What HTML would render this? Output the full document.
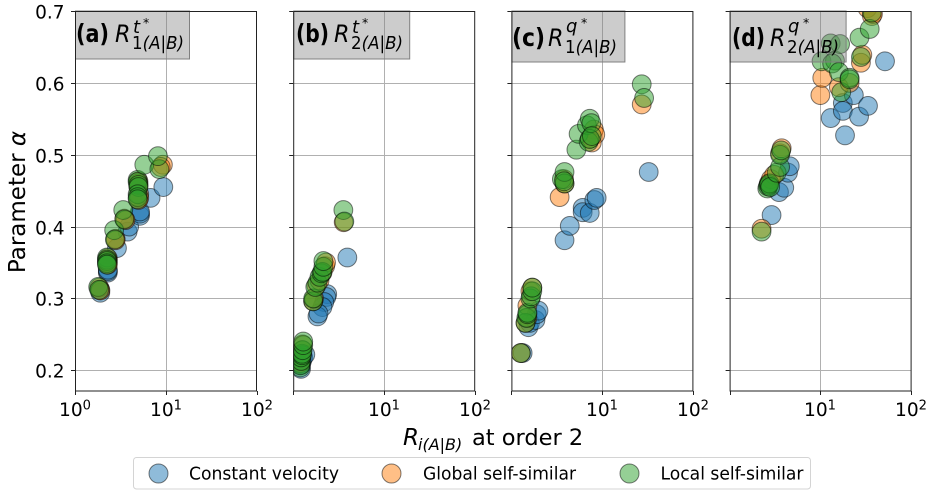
<!DOCTYPE html>
<html lang="en">
<head>
<meta charset="utf-8">
<title>Parameter alpha scatter panels</title>
<style>
html,body{margin:0;padding:0;background:#fff;}
body{width:935px;height:496px;overflow:hidden;}
svg{display:block;}
text{font-family:"DejaVu Sans","Liberation Sans",sans-serif;fill:#000;}
</style>
</head>
<body>
<svg id="chart" width="935" height="496" viewBox="0 0 935 496" xmlns="http://www.w3.org/2000/svg">
  <g id="panels"></g>

  <text transform="translate(25,202) rotate(-90)" text-anchor="middle" font-size="23">Parameter <tspan font-style="italic">α</tspan></text>

  <g>
    <text x="403" y="445" font-size="23" font-style="italic">R</text>
    <text x="418" y="450" font-size="16" font-style="italic">i(A|B)</text>
    <text x="472" y="445" font-size="22.5">at order 2</text>
  </g>

  <g>
    <rect x="133.5" y="457.5" width="677" height="31.5" rx="3" fill="#fff" stroke="#d4d4d4" stroke-width="1"/>
    <g>
      <circle cx="158.5" cy="473.5" r="9.5" fill="#1f77b4" fill-opacity="0.5" stroke="#000" stroke-opacity="0.5"/>
      <text x="189" y="479.5" font-size="18" textLength="150" lengthAdjust="spacingAndGlyphs">Constant velocity</text>
    </g>
    <g>
      <circle cx="391.5" cy="473.5" r="9.5" fill="#ff7f0e" fill-opacity="0.5" stroke="#000" stroke-opacity="0.5"/>
      <text x="423" y="479.5" font-size="18" textLength="153" lengthAdjust="spacingAndGlyphs">Global self-similar</text>
    </g>
    <g>
      <circle cx="629.5" cy="473.5" r="9.5" fill="#2ca02c" fill-opacity="0.5" stroke="#000" stroke-opacity="0.5"/>
      <text x="660.5" y="479.5" font-size="18" textLength="143" lengthAdjust="spacingAndGlyphs">Local self-similar</text>
    </g>
  </g>
</svg>
<script>
// Tick values
const yTickValues = [0.2, 0.3, 0.4, 0.5, 0.6, 0.7];
const yTickLabels = ["0.2", "0.3", "0.4", "0.5", "0.6", "0.7"];
const xTickValues = [1, 10, 100];
const xTickExponents = ["0", "1", "2"];

// Panel (a)
const aConstantX = [1.9, 1.9, 2.3, 2.3, 2.3, 2.9, 3.8, 3.95, 5.2, 5.2, 5.2, 6.8, 9.4];
const aConstantY = [0.308, 0.312, 0.336, 0.338, 0.34, 0.37, 0.393, 0.4, 0.415, 0.418, 0.421, 0.44, 0.455];
const aGlobalX = [1.85, 1.9, 2.3, 2.3, 2.3, 2.3, 2.8, 2.8, 3.5, 3.6, 5, 5, 5.1, 5.1, 5, 5, 9.3, 8.8];
const aGlobalY = [0.315, 0.311, 0.356, 0.353, 0.35, 0.347, 0.383, 0.381, 0.411, 0.409, 0.463, 0.456, 0.445, 0.44, 0.437, 0.46, 0.486, 0.483];
const aLocalX = [1.8, 1.85, 2.25, 2.25, 2.25, 2.25, 2.25, 2.7, 2.75, 3.4, 3.5, 4.9, 4.9, 5, 5, 4.9, 4.9, 4.9, 5.8, 8.5, 8.2];
const aLocalY = [0.316, 0.312, 0.357, 0.354, 0.352, 0.349, 0.347, 0.395, 0.382, 0.423, 0.41, 0.465, 0.462, 0.458, 0.455, 0.445, 0.441, 0.438, 0.486, 0.48, 0.498];

// Panel (b)
const bConstantX = [1.22, 1.22, 1.25, 1.29, 1.36, 2.37, 2.32, 2.2, 2.1, 1.85, 1.9, 3.95];
const bConstantY = [0.202, 0.208, 0.213, 0.218, 0.222, 0.306, 0.302, 0.295, 0.288, 0.275, 0.279, 0.357];
const bGlobalX = [1.2, 1.22, 1.25, 1.27, 1.66, 1.7, 1.8, 1.95, 2.1, 2.25, 2.3, 3.6];
const bGlobalY = [0.21, 0.218, 0.228, 0.236, 0.296, 0.3, 0.318, 0.325, 0.336, 0.345, 0.35, 0.406];
const bLocalX = [1.2, 1.2, 1.22, 1.22, 1.25, 1.25, 1.27, 1.29, 1.29, 1.66, 1.66, 1.75, 1.85, 1.95, 2.05, 2.1, 2.15, 2.15, 3.57, 3.66];
const bLocalY = [0.204, 0.207, 0.213, 0.218, 0.221, 0.223, 0.228, 0.235, 0.24, 0.296, 0.3, 0.316, 0.322, 0.33, 0.335, 0.337, 0.344, 0.352, 0.423, 0.407];

// Panel (c)
const cConstantX = [1.33, 1.54, 1.6, 1.84, 1.9, 1.99, 3.85, 4.4, 6.1, 6.1, 7.3, 8.2, 8.7, 32.6];
const cConstantY = [0.224, 0.26, 0.266, 0.27, 0.278, 0.283, 0.381, 0.401, 0.426, 0.42, 0.419, 0.437, 0.44, 0.476];
const cGlobalX = [1.27, 1.43, 1.5, 1.5, 1.62, 1.7, 3.4, 3.85, 3.8, 8.1, 8.4, 7.7, 7.3, 27.3];
const cGlobalY = [0.224, 0.266, 0.273, 0.29, 0.31, 0.315, 0.441, 0.46, 0.466, 0.535, 0.528, 0.517, 0.522, 0.57];
const cLocalX = [1.27, 1.43, 1.46, 1.5, 1.5, 1.62, 1.65, 1.7, 1.7, 3.6, 3.85, 3.85, 3.8, 5.2, 5.5, 6.8, 7.1, 7.3, 7.3, 7.6, 7.7, 27.3, 29];
const cLocalY = [0.224, 0.266, 0.273, 0.278, 0.28, 0.3, 0.303, 0.31, 0.315, 0.466, 0.46, 0.476, 0.463, 0.507, 0.529, 0.541, 0.518, 0.522, 0.55, 0.544, 0.526, 0.598, 0.579];

// Panel (d)
const dConstantX = [2.9, 3.5, 4, 4.4, 4.6, 13, 17.7, 17.7, 18.7, 23.4, 26.7, 33.5, 51.6];
const dConstantY = [0.416, 0.448, 0.454, 0.475, 0.484, 0.551, 0.572, 0.561, 0.527, 0.583, 0.553, 0.568, 0.63];
const dGlobalX = [2.25, 2.7, 2.85, 3.1, 3.6, 3.75, 10, 10.5, 16, 21, 28, 29, 33, 37, 38];
const dGlobalY = [0.397, 0.46, 0.466, 0.472, 0.502, 0.509, 0.583, 0.607, 0.594, 0.6, 0.628, 0.639, 0.704, 0.693, 0.696];
const dLocalX = [2.25, 2.6, 2.65, 2.7, 2.75, 2.8, 3.3, 3.6, 3.6, 3.7, 10.3, 13, 14.5, 13.5, 16.5, 16, 17, 21, 21, 28, 27, 35, 37];
const dLocalY = [0.393, 0.453, 0.456, 0.458, 0.46, 0.455, 0.475, 0.483, 0.5, 0.506, 0.63, 0.655, 0.631, 0.627, 0.654, 0.615, 0.587, 0.607, 0.605, 0.636, 0.663, 0.675, 0.698];

const svgNS = "http://www.w3.org/2000/svg";
const root = document.getElementById("panels");
const panelLetters = ["a", "b", "c", "d"];
const panelSymbols = ["t", "t", "q", "q"];
const panelOrders = ["1", "2", "1", "2"];
const constantXs = [aConstantX, bConstantX, cConstantX, dConstantX];
const constantYs = [aConstantY, bConstantY, cConstantY, dConstantY];
const globalXs = [aGlobalX, bGlobalX, cGlobalX, dGlobalX];
const globalYs = [aGlobalY, bGlobalY, cGlobalY, dGlobalY];
const localXs = [aLocalX, bLocalX, cLocalX, dLocalX];
const localYs = [aLocalY, bLocalY, cLocalY, dLocalY];

const axisTop = 11;
const axisBottom = 391;
const axisWidth = 181.5;
const decade = axisWidth / 2;
function panelLeft(i) { return 75 + i * 218.2; }
function scaleX(i, v) { return panelLeft(i) + Math.log10(v) * decade; }
function scaleY(v) { return 370.3 - (v - 0.2) * 718.6; }

function make(tag, attrs, parent) {
  const el = document.createElementNS(svgNS, tag);
  for (const k in attrs) { el.setAttribute(k, attrs[k]); }
  parent.appendChild(el);
  return el;
}

const defs = make("defs", {}, root);

for (let i = 0; i < 4; i++) {
  const left = panelLeft(i);
  const right = left + axisWidth;
  const panel = make("g", {}, root);
  
  

  const clip = make("clipPath", { id: "clip-" + i }, defs);
  make("rect", { x: left, y: axisTop, width: axisWidth, height: axisBottom - axisTop }, clip);

  // Grid lines
  yTickValues.forEach(function (t) {
    const y = Math.round(scaleY(t)) + 0.5;
    const g = make("line", { x1: left, x2: right, y1: y, y2: y, stroke: "#b0b0b0", "stroke-width": 1 }, panel);
    
    
  });
  const gridX = Math.round(scaleX(i, 10)) + 0.5;
  const gx = make("line", { x1: gridX, x2: gridX, y1: axisTop, y2: axisBottom, stroke: "#b0b0b0", "stroke-width": 1 }, panel);
  
  

  // Markers
  const groups = [
    ["constant-velocity", "#1f77b4", constantXs[i], constantYs[i]],
    ["global-self-similar", "#ff7f0e", globalXs[i], globalYs[i]],
    ["local-self-similar", "#2ca02c", localXs[i], localYs[i]]
  ];
  groups.forEach(function (s) {
    const series = make("g", { "clip-path": "url(#clip-" + i + ")" }, panel);
    
    
    s[2].forEach(function (xv, k) {
      const c = make("circle", {
        cx: scaleX(i, xv).toFixed(2),
        cy: scaleY(s[3][k]).toFixed(2),
        r: 9.4,
        fill: s[1],
        "fill-opacity": 0.5,
        stroke: "#000",
        "stroke-opacity": 0.5,
        "stroke-width": 1
      }, series);
      
      
    });
  });

  // Panel title box
  const tall = panelSymbols[i] === "q";
  const boxW = [114, 116, 113, 116][i];
  const box = make("rect", {
    x: left + 0.5, y: axisTop, width: boxW, height: tall ? 51 : 48,
    fill: "#808080", "fill-opacity": 0.4, stroke: "#808080", "stroke-width": 1
  }, panel);
  
  

  const baseY = tall ? 46 : 42;
  const letterX = [76, 296, 512, 732][i];
  const letter = make("text", { x: letterX, y: baseY, "font-size": 25, "font-weight": "bold", textLength: 33, lengthAdjust: "spacingAndGlyphs" }, panel);
  letter.textContent = "(" + panelLetters[i] + ")";
  
  

  const rx = [115, 334, 548, 770][i];
  const r = make("text", { x: rx, y: baseY, "font-size": 24, "font-style": "italic", textLength: 15.5, lengthAdjust: "spacingAndGlyphs" }, panel);
  r.textContent = "R";
  
  

  const sup = make("text", { x: rx + 18, y: tall ? 32 : 33, "font-size": 18, "font-style": "italic" }, panel);
  sup.textContent = panelSymbols[i];
  
  

  const star = make("text", { x: rx + (tall ? 33 : 28), y: 27, "font-size": 12.5 }, panel);
  star.textContent = "*";
  
  

  const sub = make("text", { x: rx + 17, y: baseY + 7, "font-size": 18, textLength: 52, lengthAdjust: "spacingAndGlyphs" }, panel);
  const subN = make("tspan", {}, sub);
  subN.textContent = panelOrders[i];
  const subRest = make("tspan", { "font-style": "italic" }, sub);
  subRest.textContent = "(A|B)";
  
  

  // Frame
  const frame = make("rect", { x: left + 0.5, y: axisTop + 0.5, width: axisWidth - 0.5, height: axisBottom - axisTop - 0.5, fill: "none", stroke: "#222", "stroke-width": 1 }, panel);
  
  

  // Y ticks
  yTickValues.forEach(function (t, k) {
    const y = Math.round(scaleY(t)) + 0.5;
    const tick = make("line", { x1: left - 4, x2: left, y1: y, y2: y, stroke: "#222", "stroke-width": 1 }, panel);
    
    
    if (i === 0) {
      const lab = make("text", { x: left - 10.5, y: y + 7, "font-size": 18.5, "text-anchor": "end" }, panel);
      lab.textContent = yTickLabels[k];
      
      
    }
  });

  // X ticks
  xTickValues.forEach(function (t, k) {
    const x = Math.round(scaleX(i, t)) + 0.5;
    const tick = make("line", { x1: x, x2: x, y1: axisBottom, y2: axisBottom + 4, stroke: "#222", "stroke-width": 1 }, panel);
    
    
    if (i === 0 || k > 0) {
      const lab = make("text", { x: x - 16.5, y: 416, "font-size": 18.5, textLength: 32, lengthAdjust: "spacingAndGlyphs" }, panel);
      const base = make("tspan", {}, lab);
      base.textContent = "10";
      const exp = make("tspan", { "font-size": 13, dy: -6.5 }, lab);
      exp.textContent = xTickExponents[k];
      
      
    }
  });
}
</script>
</body>
</html>
